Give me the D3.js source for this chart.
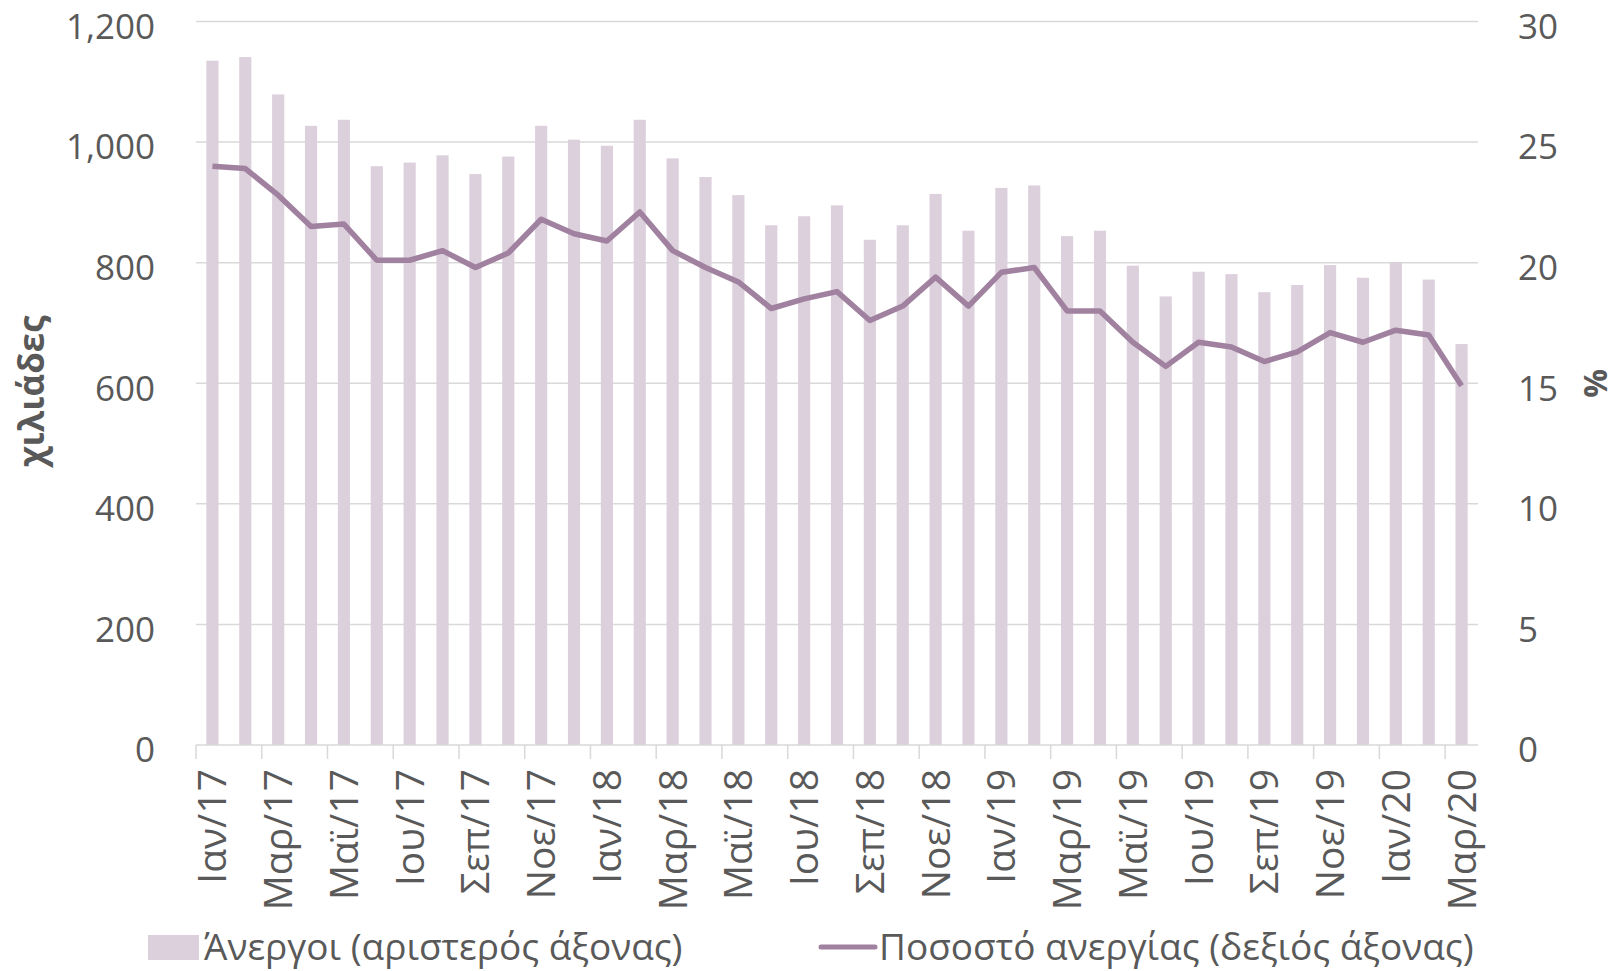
<!DOCTYPE html>
<html>
<head>
<meta charset="utf-8">
<script src="https://cdn.jsdelivr.net/npm/d3@7"></script>
<style>
  body { margin: 0; background: #fff; }
  text { font-family: "Open Sans", sans-serif; fill: #595959; }
</style>
</head>
<body>
<div id="chart"></div>
<script>
// months Jan 2017 - Mar 2020
const months = ["Ιαν/17","Φεβ/17","Μαρ/17","Απρ/17","Μαϊ/17","Ιουν/17","Ιου/17","Αυγ/17","Σεπ/17","Οκτ/17","Νοε/17","Δεκ/17",
                "Ιαν/18","Φεβ/18","Μαρ/18","Απρ/18","Μαϊ/18","Ιουν/18","Ιου/18","Αυγ/18","Σεπ/18","Οκτ/18","Νοε/18","Δεκ/18",
                "Ιαν/19","Φεβ/19","Μαρ/19","Απρ/19","Μαϊ/19","Ιουν/19","Ιου/19","Αυγ/19","Σεπ/19","Οκτ/19","Νοε/19","Δεκ/19",
                "Ιαν/20","Φεβ/20","Μαρ/20"];

// unemployed, thousands (left axis)
const unemployed = [1135,1141,1079,1027,1037,960,966,978,947,976,1027,1004,
                    994,1037,973,942,912,862,877,895,838,862,914,853,
                    924,928,844,853,795,744,785,781,751,763,796,775,
                    801,772,665];

// unemployment rate, % (right axis)
const rate = [24.0,23.9,22.8,21.5,21.6,20.1,20.1,20.5,19.8,20.4,21.8,21.2,
              20.9,22.1,20.5,19.8,19.2,18.1,18.5,18.8,17.6,18.2,19.4,18.2,
              19.6,19.8,18.0,18.0,16.7,15.7,16.7,16.5,15.9,16.3,17.1,16.7,
              17.2,17.0,14.9];

const leftTicks = [0,200,400,600,800,1000,1200];
const rightTicks = [0,5,10,15,20,25,30];

const barName = "Άνεργοι (αριστερός άξονας)";
const lineName = "Ποσοστό ανεργίας (δεξιός άξονας)";

const barColor = "#dcd0dc";
const lineColor = "#a0819f";
const gridColor = "#d9d9d9";

let margin = {top: 21.5, right: 140, bottom: 226, left: 196},
    width = 1618 - margin.left - margin.right,
    height = 971 - margin.top - margin.bottom;

let svg = d3.select("#chart")
    .append("svg")
      .attr("width", 1618)
      .attr("height", 971)
    .append("g")
      .attr("transform", `translate(${margin.left}, ${margin.top})`);

let x = d3.scaleBand()
  .domain(months)
  .range([0, width])
  .paddingInner(0.63)
  .paddingOuter(0.315);

let yL = d3.scaleLinear().domain([0, 1200]).range([height, 0]);
let yR = d3.scaleLinear().domain([0, 30]).range([height, 0]);

// gridlines
svg.append("g")
  .selectAll("line")
  .data(leftTicks.slice(1))
  .join("line")
    .attr("x1", 0).attr("x2", width)
    .attr("y1", d => yL(d)).attr("y2", d => yL(d))
    .attr("stroke", gridColor)
    .attr("stroke-width", 1.5);

// bars
svg.append("g")
  .selectAll("rect")
  .data(unemployed)
  .join("rect")
    .attr("x", (d, i) => x(months[i]))
    .attr("width", x.bandwidth())
    .attr("y", d => yL(d))
    .attr("height", d => height - yL(d))
    .attr("fill", barColor);

// x axis: tick every 2 months at band edges, labels at odd months
let step = x.step();
let xAxis = svg.append("g").attr("transform", `translate(0, ${height})`);
xAxis.append("line")
  .attr("x1", 0).attr("x2", width)
  .attr("stroke", gridColor).attr("stroke-width", 1.5);
xAxis.selectAll(".tk")
  .data(months.filter((m, i) => i % 2 === 0))
  .join("line")
    .attr("class", "tk")
    .attr("x1", (d, i) => i * 2 * step).attr("x2", (d, i) => i * 2 * step)
    .attr("y1", 0).attr("y2", 14)
    .attr("stroke", gridColor).attr("stroke-width", 1.5);
xAxis.selectAll(".lbl")
  .data(months.filter((m, i) => i % 2 === 0))
  .join("text")
    .attr("class", "lbl")
    .attr("transform", d => `translate(${x(d) + x.bandwidth() / 2 + 14}, 24) rotate(-90)`)
    .attr("text-anchor", "end")
    .style("font-size", "39px")
    .text(d => d);

// left axis
svg.append("g")
  .call(d3.axisLeft(yL).tickValues(leftTicks).tickFormat(d3.format(",")).tickSize(0).tickPadding(41))
  .call(g => g.select(".domain").remove())
  .selectAll("text")
    .style("font-size", "35px")
    .attr("dy", "0.48em");

// right axis
svg.append("g")
  .attr("transform", `translate(${width}, 0)`)
  .call(d3.axisRight(yR).tickValues(rightTicks).tickSize(0).tickPadding(40))
  .call(g => g.select(".domain").remove())
  .selectAll("text")
    .style("font-size", "35px")
    .attr("dy", "0.48em");

// line
svg.append("path")
  .datum(rate)
  .attr("fill", "none")
  .attr("stroke", lineColor)
  .attr("stroke-width", 5.5)
  .attr("stroke-linejoin", "round")
  .attr("d", d3.line()
    .x((d, i) => x(months[i]) + x.bandwidth() / 2)
    .y(d => yR(d)));

// axis titles
svg.append("text")
  .attr("transform", `translate(${44 - margin.left}, ${height / 2 + 8}) rotate(-90)`)
  .attr("text-anchor", "middle")
  .style("font-size", "35px")
  .style("font-weight", "bold")
  .text("χιλιάδες");

svg.append("text")
  .attr("transform", `translate(${1607 - margin.left}, ${yR(15)}) rotate(-90)`)
  .attr("text-anchor", "middle")
  .style("font-size", "32px")
  .style("font-weight", "bold")
  .text("%");

// legend
let legend = svg.append("g").attr("transform", `translate(0, ${947 - margin.top})`);
legend.append("rect")
  .attr("x", 148 - margin.left).attr("y", -12)
  .attr("width", 51).attr("height", 25)
  .attr("fill", barColor);
legend.append("text")
  .attr("x", 204 - margin.left).attr("y", 13)
  .style("font-size", "37px")
  .text(barName);
legend.append("line")
  .attr("x1", 821 - margin.left).attr("x2", 875 - margin.left)
  .attr("stroke", lineColor).attr("stroke-width", 5)
  .attr("stroke-linecap", "round");
legend.append("text")
  .attr("x", 879 - margin.left).attr("y", 13)
  .style("font-size", "37px")
  .text(lineName);
</script>
</body>
</html>
